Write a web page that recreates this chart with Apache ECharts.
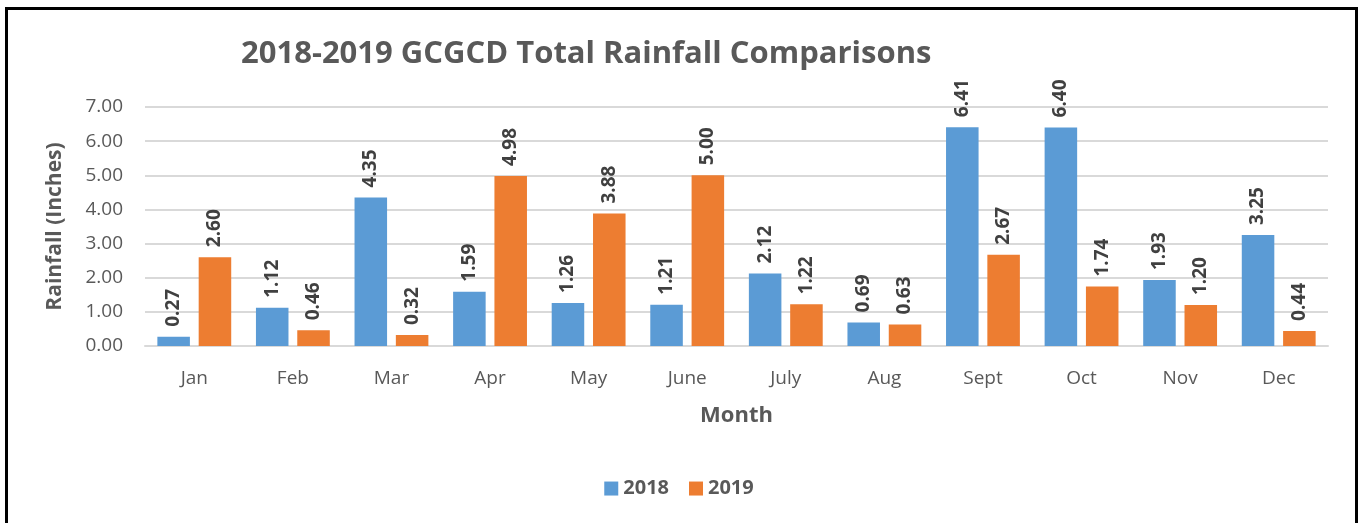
<html>

<head>
    <script src="https://cdn.jsdelivr.net/npm/echarts@6/dist/echarts.min.js"></script>
</head>
<style>
    body {
        margin: 0;
        overflow: hidden;
        background: #fff;
    }

    #chart {
        position: absolute;
        left: 0;
        top: 0;
        width: 1358px;
        height: 523px;
    }

    #frame {
        position: absolute;
        left: 5px;
        top: 7px;
        width: 1347px;
        height: 540px;
        border: 3px solid #000;
        pointer-events: none;
    }
</style>

<body>
    <div id="chart"></div>
    <div id="frame"></div>
    <script>
        const months = ['Jan', 'Feb', 'Mar', 'Apr', 'May', 'June', 'July', 'Aug', 'Sept', 'Oct', 'Nov', 'Dec']
        const rain2018 = [0.27, 1.12, 4.35, 1.59, 1.26, 1.21, 2.12, 0.69, 6.41, 6.40, 1.93, 3.25]
        const rain2019 = [2.60, 0.46, 0.32, 4.98, 3.88, 5.00, 1.22, 0.63, 2.67, 1.74, 1.20, 0.44]

        const font = "'Open Sans', sans-serif"
        const grey = '#595959'

        // value labels stand upright above each bar
        const barLabel = {
            show: true,
            position: 'top',
            rotate: 90,
            align: 'left',
            verticalAlign: 'middle',
            distance: 10,
            fontFamily: font,
            fontWeight: 'bold',
            fontSize: 19,
            color: '#404040',
            formatter: function (p) {
                return p.value.toFixed(2)
            }
        }

        const option = {
            animation: false,
            title: {
                text: '2018-2019 GCGCD Total Rainfall Comparisons',
                left: 236,
                top: 21,
                textStyle: {
                    fontFamily: font,
                    fontWeight: 'bold',
                    fontSize: 31,
                    color: grey
                }
            },
            legend: {
                bottom: 11,
                left: 'center',
                itemWidth: 14,
                itemHeight: 14,
                itemGap: 20,
                icon: 'rect',
                textStyle: {
                    fontFamily: font,
                    fontWeight: 'bold',
                    fontSize: 20,
                    color: grey
                },
                data: ['2018', '2019']
            },
            grid: {
                left: 145,
                right: 30,
                top: 107,
                bottom: 177
            },
            xAxis: {
                type: 'category',
                data: months,
                name: 'Month',
                nameLocation: 'middle',
                nameGap: 49,
                nameTextStyle: {
                    fontFamily: font,
                    fontWeight: 'bold',
                    fontSize: 22,
                    color: grey
                },
                axisLine: { lineStyle: { color: '#d9d9d9', width: 2 } },
                axisTick: { show: false },
                axisLabel: {
                    margin: 17,
                    fontFamily: font,
                    fontSize: 19,
                    color: grey
                }
            },
            yAxis: {
                type: 'value',
                min: 0,
                max: 7,
                interval: 1,
                name: 'Rainfall (Inches)',
                nameLocation: 'middle',
                nameGap: 68,
                nameTextStyle: {
                    fontFamily: font,
                    fontWeight: 'bold',
                    fontSize: 21,
                    color: grey
                },
                splitLine: { lineStyle: { color: '#d9d9d9', width: 2 } },
                axisLabel: {
                    margin: 22,
                    fontFamily: font,
                    fontSize: 19,
                    color: grey,
                    formatter: function (v) {
                        return v.toFixed(2)
                    }
                }
            },
            series: [{
                name: '2018',
                type: 'bar',
                data: rain2018,
                barWidth: '33%',
                barGap: '27%',
                itemStyle: { color: '#5B9BD5' },
                label: barLabel
            }, {
                name: '2019',
                type: 'bar',
                data: rain2019,
                barWidth: '33%',
                itemStyle: { color: '#ED7D31' },
                label: barLabel
            }]
        }

        const myChart = echarts.init(document.getElementById('chart'))
        myChart.setOption(option)
    </script>
</body>

</html>
